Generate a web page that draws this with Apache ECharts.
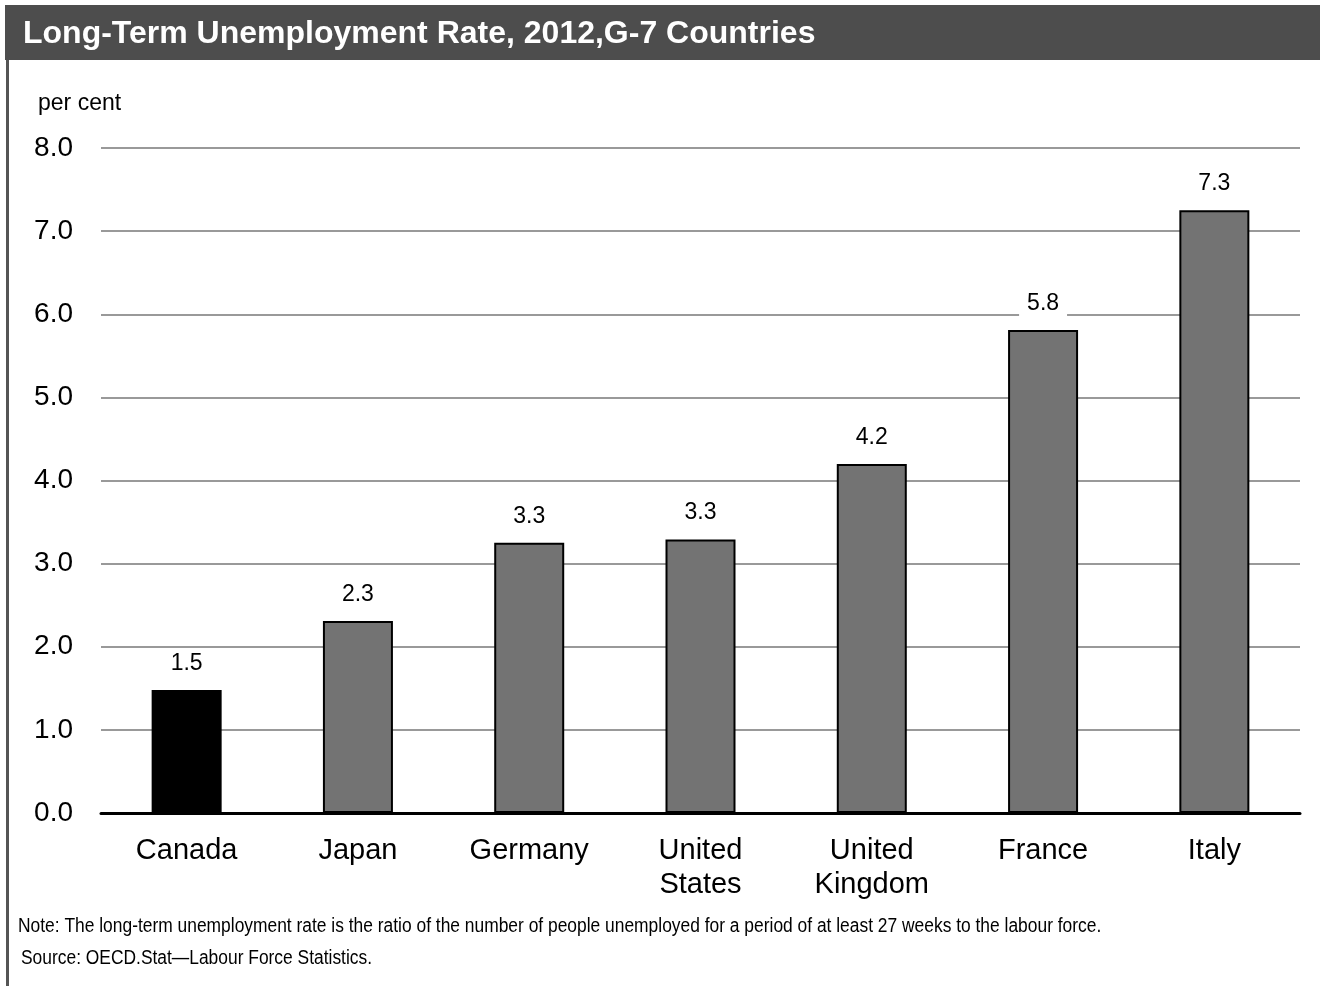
<!DOCTYPE html>
<html><head><meta charset="utf-8">
<script src="https://cdn.jsdelivr.net/npm/echarts@6/dist/echarts.min.js"></script>
<style>html,body{margin:0;padding:0;background:#fff}#c{width:1320px;height:986px}</style>
</head><body><div id="c"></div>
<script>
const categories = ['Canada', 'Japan', 'Germany', 'United\nStates', 'United\nKingdom', 'France', 'Italy'];
const values = [1.48, 2.31, 3.25, 3.29, 4.2, 5.81, 7.25];
const yTicks = [0, 1, 2, 3, 4, 5, 6, 7, 8];

const chart = echarts.init(document.getElementById('c'));
chart.setOption({
  animation: false,
  backgroundColor: '#fff',
  grid: { left: 101, right: 20, top: 148, bottom: 173, containLabel: false },
  xAxis: {
    type: 'category', data: categories,
    axisLine: { lineStyle: { color: '#000', width: 3 } },
    axisTick: { show: false },
    axisLabel: { color: '#000', fontSize: 29, fontFamily: 'Liberation Sans, Arial', margin: 21, lineHeight: 34, interval: 0 }
  },
  yAxis: {
    type: 'value', min: yTicks[0], max: yTicks[yTicks.length - 1], interval: 1,
    axisLine: { show: false }, axisTick: { show: false },
    splitLine: { lineStyle: { color: '#999', width: 2 } },
    axisLabel: { color: '#000', fontSize: 28, fontFamily: 'Liberation Sans, Arial', margin: 28,
      formatter: v => v.toFixed(1) }
  },
  series: [{
    type: 'bar', barWidth: 70,
    data: values.map((v, i) => ({
      value: v,
      itemStyle: i === 0 ? { color: '#000', borderColor: '#000', borderWidth: 2 } : { color: '#737373', borderColor: '#000', borderWidth: 2 }
    })),
    label: {
      show: true, position: 'top', distance: 11, color: '#000', fontSize: 23,
      fontFamily: 'Liberation Sans, Arial', backgroundColor: '#fff', padding: [4, 8],
      formatter: p => p.value.toFixed(1)
    }
  }],
  graphic: [
    { type: 'rect', left: 5, top: 5, shape: { width: 1315, height: 55 }, style: { fill: '#4d4d4d' }, silent: true },
    { type: 'rect', left: 6, top: 60, shape: { width: 3, height: 926 }, style: { fill: '#555' }, silent: true },
    { type: 'text', left: 23, top: 18, style: { text: 'Long-Term Unemployment Rate, 2012,G-7 Countries', fill: '#fff', font: 'bold 32px "Liberation Sans", Arial' } },
    { type: 'text', left: 38, top: 92, style: { text: 'per cent', fill: '#000', font: '23px "Liberation Sans", Arial' } },
    { type: 'text', x: 18, y: 916, scaleX: 0.87, style: { text: 'Note: The long-term unemployment rate is the ratio of the number of people unemployed for a period of at least 27 weeks to the labour force.', fill: '#000', font: '20px "Liberation Sans", Arial' } },
    { type: 'text', x: 21, y: 948, scaleX: 0.87, style: { text: 'Source: OECD.Stat\u2014Labour Force Statistics.', fill: '#000', font: '20px "Liberation Sans", Arial' } }
  ]
});
</script></body></html>
